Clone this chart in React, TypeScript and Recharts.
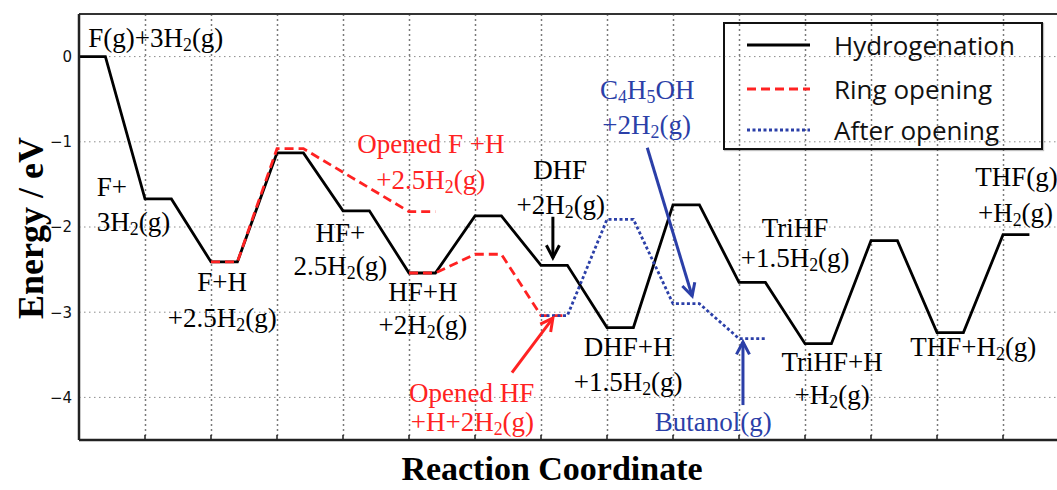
import React from "react";
import {
  LineChart,
  Line,
  XAxis,
  YAxis,
  CartesianGrid,
  ReferenceLine,
  ReferenceDot,
} from "recharts";

// plateau length of every state along the reaction coordinate
const PLATEAU = 0.4;

const hydroStart = [0, 1, 2, 3, 4, 5, 6, 7, 8, 9, 10, 11, 12, 13, 14];
const hydroEnergy = [0, -1.67, -2.41, -1.13, -1.81, -2.54, -1.87, -2.45, -3.18, -1.74, -2.65, -3.37, -2.16, -3.24, -2.09];

const ringAStart = [2, 3, 5];
const ringAEnergy = [-2.41, -1.08, -1.82];
const ringBStart = [5, 6, 7];
const ringBEnergy = [-2.54, -2.32, -3.04];

const afterStart = [7, 8, 9, 10];
const afterEnergy = [-3.04, -1.91, -2.9, -3.31];

const xTicks = [0, 1, 2, 3, 4, 5, 6, 7, 8, 9, 10, 11, 12, 13, 14];
const yTicks = [0, -1, -2, -3, -4];
const Y_MIN = -4.5;
const Y_MAX = 0.5;

const BLACK = "#000";
const RED = "#ff2222";
const BLUE = "#2b3fa8";
const GRID = "#8c8c8c";

const toPath = (starts: number[], energies: number[]) =>
  starts.flatMap((s, i) => [
    { x: s, e: energies[i] },
    { x: s + PLATEAU, e: energies[i] },
  ]);

const hydro = toPath(hydroStart, hydroEnergy);
const ringA = toPath(ringAStart, ringAEnergy);
const ringB = toPath(ringBStart, ringBEnergy);
const after = toPath(afterStart, afterEnergy);

// text annotations, one entry per line, "_" marks a subscript character
const notes = [
  { x: 0.14, y: 0.22, t: "F(g)+3H_2(g)", c: BLACK, a: "start" },
  { x: 0.27, y: -1.53, t: "F+", c: BLACK, a: "start" },
  { x: 0.27, y: -1.94, t: "3H_2(g)", c: BLACK, a: "start" },
  { x: 2.17, y: -2.65, t: "F+H", c: BLACK, a: "middle" },
  { x: 2.17, y: -3.07, t: "+2.5H_2(g)", c: BLACK, a: "middle" },
  { x: 3.96, y: -2.07, t: "HF+", c: BLACK, a: "middle" },
  { x: 3.96, y: -2.46, t: "2.5H_2(g)", c: BLACK, a: "middle" },
  { x: 5.33, y: -1.03, t: "Opened F +H", c: RED, a: "middle" },
  { x: 5.33, y: -1.45, t: "+2.5H_2(g)", c: RED, a: "middle" },
  { x: 5.21, y: -2.76, t: "HF+H", c: BLACK, a: "middle" },
  { x: 5.21, y: -3.15, t: "+2H_2(g)", c: BLACK, a: "middle" },
  { x: 7.29, y: -1.33, t: "DHF", c: BLACK, a: "middle" },
  { x: 7.3, y: -1.74, t: "+2H_2(g)", c: BLACK, a: "middle" },
  { x: 8.61, y: -0.39, t: "C_4H_5OH", c: BLUE, a: "middle" },
  { x: 8.6, y: -0.8, t: "+2H_2(g)", c: BLUE, a: "middle" },
  { x: 8.32, y: -3.41, t: "DHF+H", c: BLACK, a: "middle" },
  { x: 8.32, y: -3.82, t: "+1.5H_2(g)", c: BLACK, a: "middle" },
  { x: 5.95, y: -3.95, t: "Opened HF", c: RED, a: "middle" },
  { x: 5.96, y: -4.29, t: "+H+2H_2(g)", c: RED, a: "middle" },
  { x: 9.61, y: -4.29, t: "Butanol(g)", c: BLUE, a: "middle" },
  { x: 10.85, y: -2.01, t: "TriHF", c: BLACK, a: "middle" },
  { x: 10.85, y: -2.36, t: "+1.5H_2(g)", c: BLACK, a: "middle" },
  { x: 11.41, y: -3.59, t: "TriHF+H", c: BLACK, a: "middle" },
  { x: 11.41, y: -3.97, t: "+H_2(g)", c: BLACK, a: "middle" },
  { x: 13.55, y: -3.41, t: "THF+H_2(g)", c: BLACK, a: "middle" },
  { x: 13.58, y: -1.41, t: "THF(g)", c: BLACK, a: "start" },
  { x: 13.62, y: -1.84, t: "+H_2(g)", c: BLACK, a: "start" },
];

const arrows = [
  { x1: 7.18, y1: -1.88, x2: 7.18, y2: -2.36, c: BLACK },
  { x1: 8.61, y1: -1.07, x2: 9.29, y2: -2.81, c: BLUE },
  { x1: 6.56, y1: -3.71, x2: 7.18, y2: -3.07, c: RED },
  { x1: 10.06, y1: -4.09, x2: 10.06, y2: -3.35, c: BLUE },
];

const FS = 27;

function Rich({ text }: { text: string }) {
  const parts: { s: string; sub: boolean }[] = [];
  let buf = "";
  for (let i = 0; i < text.length; i++) {
    if (text[i] === "_") {
      if (buf) parts.push({ s: buf, sub: false });
      buf = "";
      parts.push({ s: text[i + 1], sub: true });
      i++;
    } else buf += text[i];
  }
  if (buf) parts.push({ s: buf, sub: false });
  const shift = 7;
  let prevSub = false;
  return (
    <>
      {parts.map((p, i) => {
        let dy = 0;
        if (p.sub && !prevSub) dy = shift;
        if (!p.sub && prevSub) dy = -shift;
        prevSub = p.sub;
        return (
          <tspan key={i} dy={dy} fontSize={p.sub ? FS * 0.66 : FS}>
            {p.s}
          </tspan>
        );
      })}
    </>
  );
}

const arrowShape = (color: string) => (p: any) => {
  const { x1, y1, x2, y2 } = p;
  const ang = Math.atan2(y2 - y1, x2 - x1);
  const L = 14;
  const a = Math.PI / 6.5;
  const h1x = x2 - L * Math.cos(ang - a);
  const h1y = y2 - L * Math.sin(ang - a);
  const h2x = x2 - L * Math.cos(ang + a);
  const h2y = y2 - L * Math.sin(ang + a);
  return (
    <g>
      <line x1={x1} y1={y1} x2={x2} y2={y2} stroke={color} strokeWidth={3} />
      <polyline
        points={`${h1x},${h1y} ${x2},${y2} ${h2x},${h2y}`}
        fill="none"
        stroke={color}
        strokeWidth={3}
      />
    </g>
  );
};

// vertical dotted grid line, snapped to the pixel grid so it stays visible
const gridShape = (p: any) => (
  <line
    x1={p.x1 + 0.5}
    y1={p.y1}
    x2={p.x2 + 0.5}
    y2={p.y2}
    stroke="#7a7a7a"
    strokeWidth={1.5}
    strokeDasharray="2 3"
  />
);

const legendRows = [
  { name: "Hydrogenation", color: BLACK, dash: undefined as string | undefined },
  { name: "Ring opening", color: RED, dash: "9 5" },
  { name: "After opening", color: BLUE, dash: "3 2.5" },
];

export default function App() {
  return (
    <div style={{ position: "absolute", left: 0, top: 0, width: 1057, height: 490, overflow: "hidden", background: "#fff" }}>
      <LineChart width={1057} height={490} margin={{ top: 14, right: 0, bottom: 0, left: 0 }}>
        <CartesianGrid stroke={GRID} strokeDasharray="1.5 3.5" vertical={false} />
        {xTicks.slice(1).map((x) => (
          <ReferenceLine
            key={"g" + x}
            segment={[
              { x, y: Y_MAX },
              { x, y: Y_MIN },
            ]}
            stroke={GRID}
            ifOverflow="visible"
            shape={gridShape}
          />
        ))}
        <XAxis
          type="number"
          dataKey="x"
          domain={[0, 14.818]}
          ticks={xTicks}
          allowDataOverflow
          height={50}
          tick={() => <g />}
          tickSize={-5}
          tickLine={{ stroke: "#222", strokeWidth: 1.5 }}
          axisLine={{ stroke: "#222", strokeWidth: 2.5 }}
          label={{
            content: (props: any) => {
              const vb = props.viewBox;
              return (
                <text
                  x={vb.x + 473}
                  y={480}
                  textAnchor="middle"
                  fontFamily="Liberation Serif"
                  fontWeight="bold"
                  fontSize={34}
                  fill="#000"
                >
                  Reaction Coordinate
                </text>
              );
            },
          }}
        />
        <YAxis
          type="number"
          dataKey="e"
          domain={[Y_MIN, Y_MAX]}
          ticks={yTicks}
          allowDataOverflow
          width={79}
          tickLine={false}
          tickMargin={1}
          tickFormatter={(v: number) => (v < 0 ? "\u2212" + Math.abs(v) : String(v))}
          tick={{ fill: "#111", fontSize: 15, fontFamily: "DejaVu Sans" }}
          axisLine={{ stroke: "#222", strokeWidth: 2.5 }}
          label={{
            content: (props: any) => {
              const vb = props.viewBox;
              const cx = 43;
              const cy = vb.y + vb.height / 2 + 1;
              return (
                <text
                  x={cx}
                  y={cy}
                  transform={`rotate(-90, ${cx}, ${cy})`}
                  textAnchor="middle"
                  fontFamily="Liberation Serif"
                  fontWeight="bold"
                  fontSize={36}
                  fill="#000"
                >
                  Energy / eV
                </text>
              );
            },
          }}
        />
        <ReferenceLine y={Y_MAX} stroke="#333" strokeWidth={2} ifOverflow="visible" />
        <Line
          data={hydro}
          dataKey="e"
          stroke={BLACK}
          strokeWidth={2.8}
          dot={false}
          type="linear"
          isAnimationActive={false}
        />
        <Line
          data={ringA}
          dataKey="e"
          stroke={RED}
          strokeWidth={2.8}
          strokeDasharray="9 5"
          dot={false}
          type="linear"
          isAnimationActive={false}
        />
        <Line
          data={ringB}
          dataKey="e"
          stroke={RED}
          strokeWidth={2.8}
          strokeDasharray="9 5"
          dot={false}
          type="linear"
          isAnimationActive={false}
        />
        <Line
          data={after}
          dataKey="e"
          stroke={BLUE}
          strokeWidth={2.8}
          strokeDasharray="3 2.5"
          dot={false}
          type="linear"
          isAnimationActive={false}
        />
        {arrows.map((a, i) => (
          <ReferenceLine
            key={"a" + i}
            segment={[
              { x: a.x1, y: a.y1 },
              { x: a.x2, y: a.y2 },
            ]}
            stroke={a.c}
            ifOverflow="visible"
            shape={arrowShape(a.c)}
          />
        ))}
        {notes.map((n, i) => (
          <ReferenceDot
            key={"n" + i}
            x={n.x}
            y={n.y}
            r={0}
            ifOverflow="visible"
            shape={(p: any) => (
              <text
                x={p.cx}
                y={p.cy}
                textAnchor={n.a as any}
                dominantBaseline="central"
                fontFamily="Liberation Serif"
                fontSize={FS}
                fill={n.c}
              >
                <Rich text={n.t} />
              </text>
            )}
          />
        ))}
      </LineChart>
      <div
        style={{
          position: "absolute",
          left: 723,
          top: 22,
          width: 320,
          height: 128,
          border: "2px solid #111",
          boxSizing: "border-box",
          boxShadow: "1px 1px 1px rgba(0,0,0,0.25)",
        }}
      >
        {legendRows.map((r, i) => (
          <div key={r.name} style={{ position: "absolute", left: 0, top: [21, 65, 106][i] - 20, height: 40, width: 316 }}>
            <svg width={70} height={40} style={{ position: "absolute", left: 20, top: 0 }}>
              <line x1={2} y1={20} x2={65} y2={20} stroke={r.color} strokeWidth={3} strokeDasharray={r.dash} />
            </svg>
            <span
              style={{
                position: "absolute",
                left: 109,
                top: 0,
                lineHeight: "40px",
                fontFamily: "Open Sans",
                fontSize: 26,
                color: "#111",
                whiteSpace: "nowrap",
              }}
            >
              {r.name}
            </span>
          </div>
        ))}
      </div>
    </div>
  );
}
